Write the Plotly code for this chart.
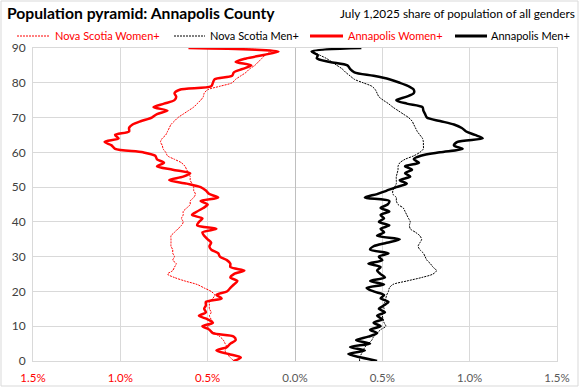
import plotly.graph_objects as go

ages = list(range(0, 91))

annapolis_women = [0.35, 0.31, 0.38, 0.45, 0.39, 0.37, 0.34, 0.35, 0.47, 0.49,
                   0.53, 0.47, 0.50, 0.55, 0.51, 0.52, 0.51, 0.51, 0.42, 0.45,
                   0.39, 0.37, 0.35, 0.33, 0.37, 0.35, 0.29, 0.37, 0.37, 0.39,
                   0.43, 0.44, 0.48, 0.49, 0.48, 0.50, 0.52, 0.53, 0.45, 0.56,
                   0.55, 0.53, 0.59, 0.56, 0.525, 0.50, 0.54, 0.44, 0.49, 0.51,
                   0.54, 0.62, 0.72, 0.64, 0.60, 0.70, 0.79, 0.75, 0.79, 0.80,
                   0.87, 1.03, 1.05, 1.09, 1.01, 1.03, 0.95, 0.95, 0.93, 0.88,
                   0.82, 0.79, 0.73, 0.81, 0.75, 0.69, 0.68, 0.69, 0.66, 0.48,
                   0.47, 0.46, 0.36, 0.35, 0.30, 0.25, 0.34, 0.28, 0.18, 0.095,
                   0.61]

ns_women = [0.35, 0.37, 0.39, 0.40, 0.39, 0.40, 0.41, 0.43, 0.46, 0.49,
            0.50, 0.47, 0.48, 0.49, 0.48, 0.49, 0.49, 0.49, 0.47, 0.46,
            0.48, 0.52, 0.56, 0.63, 0.69, 0.73, 0.70, 0.69, 0.68, 0.70,
            0.69, 0.70, 0.70, 0.71, 0.71, 0.71, 0.71, 0.69, 0.67, 0.65,
            0.64, 0.65, 0.64, 0.64, 0.62, 0.60, 0.60, 0.58, 0.57, 0.58,
            0.58, 0.59, 0.60, 0.60, 0.61, 0.62, 0.63, 0.65, 0.69, 0.73,
            0.74, 0.755, 0.76, 0.77, 0.76, 0.74, 0.73, 0.72, 0.71, 0.69,
            0.67, 0.64, 0.61, 0.58, 0.56, 0.54, 0.525, 0.52, 0.50, 0.43,
            0.36, 0.34, 0.31, 0.28, 0.26, 0.23, 0.21, 0.19, 0.17, 0.14,
            0.60]

annapolis_men = [0.47, 0.38, 0.305, 0.40, 0.315, 0.43, 0.35, 0.42, 0.47, 0.43,
                 0.49, 0.45, 0.50, 0.47, 0.515, 0.48, 0.51, 0.535, 0.49, 0.51,
                 0.45, 0.41, 0.51, 0.43, 0.515, 0.49, 0.47, 0.49, 0.42, 0.50,
                 0.48, 0.535, 0.43, 0.45, 0.525, 0.60, 0.47, 0.51, 0.49, 0.54,
                 0.48, 0.51, 0.49, 0.54, 0.49, 0.53, 0.54, 0.40, 0.47, 0.525,
                 0.58, 0.64, 0.60, 0.66, 0.63, 0.67, 0.63, 0.71, 0.68, 0.72,
                 0.83, 0.96, 0.91, 0.93, 1.075, 1.03, 0.98, 0.955, 0.91, 0.83,
                 0.755, 0.745, 0.735, 0.73, 0.64, 0.58, 0.64, 0.68, 0.68, 0.65,
                 0.60, 0.54, 0.45, 0.34, 0.315, 0.30, 0.20, 0.125, 0.13, 0.095,
                 0.38]

ns_men = [0.37, 0.37, 0.38, 0.39, 0.40, 0.42, 0.44, 0.45, 0.47, 0.49,
          0.52, 0.51, 0.505, 0.50, 0.505, 0.51, 0.505, 0.515, 0.52, 0.525,
          0.535, 0.54, 0.56, 0.64, 0.725, 0.79, 0.81, 0.79, 0.775, 0.755,
          0.745, 0.735, 0.715, 0.705, 0.715, 0.725, 0.715, 0.69, 0.66, 0.655,
          0.66, 0.65, 0.64, 0.63, 0.62, 0.59, 0.58, 0.58, 0.56, 0.56,
          0.57, 0.58, 0.58, 0.58, 0.585, 0.59, 0.59, 0.60, 0.63, 0.68,
          0.715, 0.735, 0.735, 0.735, 0.73, 0.715, 0.70, 0.69, 0.68, 0.67,
          0.65, 0.62, 0.59, 0.56, 0.535, 0.505, 0.48, 0.47, 0.46, 0.44,
          0.39, 0.34, 0.315, 0.29, 0.27, 0.24, 0.21, 0.18, 0.14, 0.105,
          0.33]

series_names = ["Nova Scotia Women+", "Nova Scotia Men+", "Annapolis Women+", "Annapolis Men+"]

x_tick_vals = [-1.5, -1.0, -0.5, 0.0, 0.5, 1.0, 1.5]
x_tick_text = ["1.5%", "1.0%", "0.5%", "0.0%", "0.5%", "1.0%", "1.5%"]
y_tick_vals = [0, 10, 20, 30, 40, 50, 60, 70, 80, 90]

RED = "#FF0000"
BLACK = "#000000"
GRID = "#D9D9D9"
TEXT = "#404040"
FONT = "Lato, sans-serif"
DOT = "2px,1px"

tick_colors = [RED, RED, RED, "#595959", "#595959", "#595959", "#595959"]
tick_labels = [f"<span style='color:{c}'>{t}</span>" for t, c in zip(x_tick_text, tick_colors)]

styles = [
    dict(color=RED, width=1, dash=DOT),
    dict(color=BLACK, width=1, dash=DOT),
    dict(color=RED, width=2.5),
    dict(color=BLACK, width=2.5),
]
data = [[-v for v in ns_women], ns_men, [-v for v in annapolis_women], annapolis_men]

fig = go.Figure()
for name, xs, st in zip(series_names, data, styles):
    fig.add_trace(go.Scatter(
        x=xs, y=ages, mode="lines", name=name, showlegend=False,
        line=dict(shape="spline", smoothing=0.8, **st)))

L, R, T, B = 33, 24, 48, 27
W, H = 581, 388
pw, ph = W - L - R, H - T - B


def px_x(p):
    return (p - L) / pw


def px_y(p):
    return (H - B - p) / ph


# custom legend (line sample start, line sample end, text start)
legend_pos = [(17, 50, 54), (174, 205, 209), (310, 343, 347), (455, 487, 490)]
legend_text_colors = [RED, BLACK, RED, BLACK]
LEG_Y = 36

shapes = [dict(type="rect", xref="paper", yref="paper",
               x0=px_x(1), x1=px_x(578), y0=px_y(386), y1=px_y(1),
               line=dict(color=GRID, width=1), fillcolor="rgba(0,0,0,0)", layer="below")]
annotations = [dict(text="July 1,2025 share of population of all genders",
                    xref="paper", yref="paper", x=px_x(338), y=px_y(14),
                    xanchor="left", yanchor="middle", showarrow=False,
                    font=dict(family=FONT, size=11.8, color="#000000"))]
for (a, b, t), st, name, tc in zip(legend_pos, styles, series_names, legend_text_colors):
    lw = st["width"] if st["width"] < 2 else 3
    shapes.append(dict(type="line", xref="paper", yref="paper",
                       x0=px_x(a), x1=px_x(b), y0=px_y(LEG_Y), y1=px_y(LEG_Y),
                       line=dict(color=st["color"], width=lw, dash=st.get("dash", "solid"))))
    annotations.append(dict(text=name, xref="paper", yref="paper",
                            x=px_x(t - 1), y=px_y(LEG_Y), xanchor="left", yanchor="middle",
                            showarrow=False, font=dict(family=FONT, size=11, color=tc)))

fig.update_layout(
    width=W, height=H,
    margin=dict(l=L, r=R, t=T, b=B, autoexpand=False),
    paper_bgcolor="white", plot_bgcolor="white",
    font=dict(family=FONT, color=TEXT, size=12),
    title=dict(text="<b>Population pyramid: Annapolis County</b>",
               font=dict(family=FONT, size=15.7, color="#000000"),
               xref="container", yref="container", x=7 / W, y=1 - 14 / H,
               xanchor="left", yanchor="middle"),
    showlegend=False,
    xaxis=dict(range=[-1.5, 1.5], tickvals=x_tick_vals, ticktext=tick_labels,
               showgrid=True, gridcolor=GRID, gridwidth=1,
               zeroline=True, zerolinecolor="#BFBFBF", zerolinewidth=1,
               showline=True, linecolor=GRID, mirror=True,
               ticks="", tickfont=dict(family=FONT, size=11.5, color="#595959"),
               ticklabelstandoff=6, fixedrange=True),
    yaxis=dict(range=[0, 90], tickvals=y_tick_vals,
               showgrid=True, gridcolor=GRID, gridwidth=1,
               zeroline=False, showline=True, linecolor=GRID, mirror=True,
               ticks="", tickfont=dict(family=FONT, size=12, color=TEXT),
               ticklabelstandoff=4, fixedrange=True),
    annotations=annotations,
    shapes=shapes,
)

fig.write_html("out.html", config={"displayModeBar": False},
               post_script="document.body.style.margin='0px';")
